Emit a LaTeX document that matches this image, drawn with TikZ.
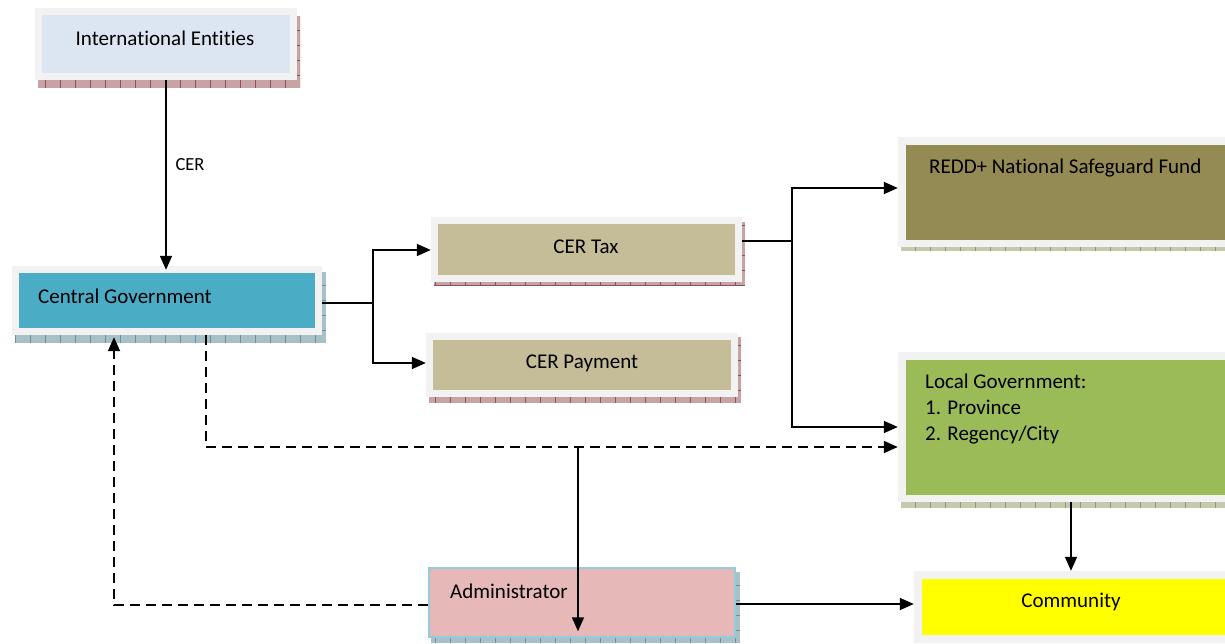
\documentclass[tikz,border=0pt]{standalone}
\usepackage{fontspec}
\setmainfont{Carlito}[Ligatures=NoCommon]
\usetikzlibrary{arrows.meta}

\definecolor{framegray}{HTML}{F2F2F2}
\definecolor{ieblue}{HTML}{DCE6F2}
\definecolor{cgteal}{HTML}{4BACC6}
\definecolor{taxtan}{HTML}{C4BD97}
\definecolor{fundolive}{HTML}{948A54}
\definecolor{localgreen}{HTML}{9BBB59}
\definecolor{admpink}{HTML}{E6B9B8}
\definecolor{admborder}{HTML}{93CDDD}
\definecolor{comyellow}{HTML}{FFFF00}
\definecolor{redshadefill}{HTML}{C8A3A6}
\definecolor{redshadeline}{HTML}{8E4F57}
\definecolor{tealshadefill}{HTML}{A8C0C8}
\definecolor{tealshadeline}{HTML}{6B929C}
\definecolor{greenshadefill}{HTML}{C3CAAE}
\definecolor{greenshadeline}{HTML}{8C9972}

% hatched drop shade behind a box
\newcommand\dropshade[3]{%
  \begin{scope}
    \clip #2 rectangle #3;
    \fill[#1shadefill] #2 rectangle #3;
    \draw[#1shadeline, line width=0.7pt, step=15pt] #2 grid #3;
  \end{scope}}

\tikzset{
  panel/.style 2 args={fill=framegray, draw=none, inner sep=0pt,
    path picture={\fill[#1] ([xshift=#2,yshift=-#2]path picture bounding box.north west)
      rectangle ([xshift=-#2,yshift=#2]path picture bounding box.south east);}},
  label/.style={font=\fontsize{21}{26}\selectfont, inner sep=0pt, text=black},
  arr/.style={line width=1.7pt, -{Triangle[length=14pt,width=12pt]}},
  link/.style={line width=1.7pt},
  dasharr/.style={line width=1.9pt, dash pattern=on 10pt off 6pt, -{Triangle[length=14pt,width=12pt]}},
}

\begin{document}
\begin{tikzpicture}[x=1pt,y=-1pt]
\useasboundingbox (0,0) rectangle (1225,643);
\clip (0,0) rectangle (1225,643);
\fill[white] (0,0) rectangle (1225,643);

% drop shades
\dropshade{red}{(38,16)}{(300,88)}
\dropshade{teal}{(15,272)}{(326,343)}
\dropshade{red}{(434,222)}{(745,285)}
\dropshade{red}{(429,337)}{(741,403)}
\dropshade{green}{(901,142)}{(1240,251)}
\dropshade{green}{(901,357)}{(1240,508)}
\dropshade{teal}{(431,572)}{(740,643)}

% boxes
\node[panel={ieblue}{7pt}, minimum width=262pt, minimum height=72pt] (ie) at (166,44) {};
\node[panel={cgteal}{7pt}, minimum width=310pt, minimum height=69pt] (cg) at (167,300.5) {};
\node[panel={taxtan}{7pt}, minimum width=311pt, minimum height=65pt] (tax) at (586.5,249.5) {};
\node[panel={taxtan}{7pt}, minimum width=312pt, minimum height=64pt] (pay) at (582,365) {};
\node[panel={fundolive}{7.5pt}, minimum width=342pt, minimum height=110pt] (redd) at (1069,192) {};
\node[panel={localgreen}{7.5pt}, minimum width=342pt, minimum height=150pt] (local) at (1069,427) {};
\node[fill=admpink, draw=admborder, line width=2.5pt, inner sep=0pt,
      minimum width=306pt, minimum height=69pt] (adm) at (582,602.5) {};
\node[panel={comyellow}{8pt}, minimum width=326pt, minimum height=72pt] (com) at (1077,607) {};

% texts
\node[label] (ie-t) at (165,38) {International Entities};
\node[label, anchor=west] (cg-t) at (38,296) {Central Government};
\node[label] (tax-t) at (586,247) {CER Tax};
\node[label] (pay-t) at (582,363) {CER Payment};
\node[label, anchor=west] (redd-t) at (929,168) {REDD+ National Safeguard Fund};
\node[label, anchor=west, align=left] (local-t) at (925,409)
  {Local Government:\\1. Province\\2. Regency/City};
\node[label, anchor=west] (adm-t) at (450,591) {Administrator};
\node[label] (com-t) at (1071,602) {Community};
\node[label, font=\fontsize{18.5}{22}\selectfont] (cer) at (190,165) {CER};

% connectors
\draw[arr] (ie.south) -- ([yshift=-4pt]ie.south |- cg.north);

\coordinate (split1) at ([xshift=51pt,yshift=-2.5pt]cg.east);
\draw[link] ([yshift=-2.5pt]cg.east) -- (split1);
\draw[arr] (split1) |- ([yshift=-0.5pt]tax.west);
\draw[arr] (split1) |- ([yshift=2pt]pay.west);

\coordinate (split2) at ([xshift=50pt,yshift=8.5pt]tax.east);
\draw[link] ([yshift=8.5pt]tax.east) -- (split2);
\draw[arr] (split2) |- ([yshift=4pt]redd.west);
\draw[arr] (split2) |- (local.west);

\draw[dasharr] ([xshift=39pt]cg.south) |- ([yshift=-20pt]local.west);
\coordinate (split3) at (578,447);
\draw[arr] (split3) -- ([yshift=7pt]split3 |- adm.south);

\draw[dasharr] ([yshift=-2.5pt]adm.west) -| ([xshift=-53pt,yshift=-2pt]cg.south);
\draw[arr] ([yshift=-1.5pt]adm.east) -- ([yshift=-1.5pt]adm.east -| com.west);
\draw[arr] ([xshift=2pt]local.south) -- ([xshift=2pt]local.south |- com.north);
\end{tikzpicture}
\end{document}
